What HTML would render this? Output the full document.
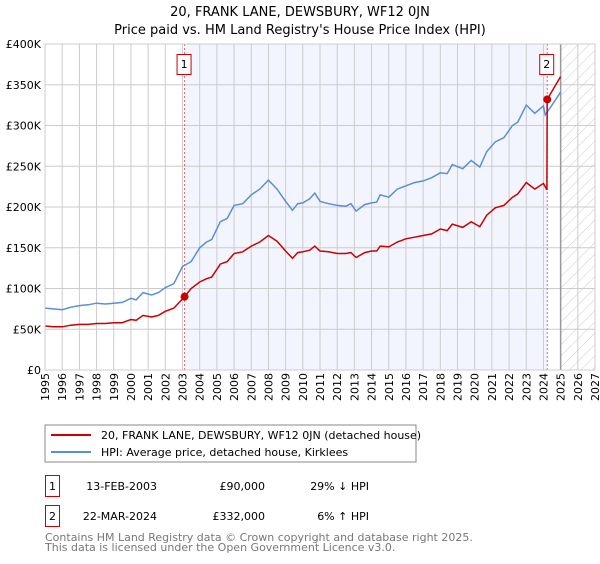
<!DOCTYPE html>
<html><head><meta charset="utf-8"><style>
body{margin:0;background:#fff;font-family:"DejaVu Sans","Liberation Sans",sans-serif;}
svg text{font-family:"DejaVu Sans","Liberation Sans",sans-serif;}
</style></head><body>
<svg id="c" width="600" height="560" xmlns="http://www.w3.org/2000/svg">
<defs><pattern id="hatch" width="8" height="8" patternUnits="userSpaceOnUse" patternTransform="rotate(45)"><line x1="0" y1="0" x2="0" y2="8" stroke="#ccc" stroke-width="1"/></pattern></defs>
<text x="300" y="16" font-size="13" text-anchor="middle">20, FRANK LANE, DEWSBURY, WF12 0JN</text>
<text x="300" y="34" font-size="13" text-anchor="middle">Price paid vs. HM Land Registry's House Price Index (HPI)</text>
<g id="plot"></g>
<rect x="45" y="425" width="371" height="37" fill="#fff" stroke="#888"/>
<line x1="51" y1="435" x2="91" y2="435" stroke="#cc0000" stroke-width="2"/>
<text x="101" y="439" font-size="11">20, FRANK LANE, DEWSBURY, WF12 0JN (detached house)</text>
<line x1="51" y1="452" x2="91" y2="452" stroke="#5b8fd4" stroke-width="2"/>
<text x="101" y="456" font-size="11">HPI: Average price, detached house, Kirklees</text>
<g>
<rect x="45.5" y="475.5" width="14" height="21" fill="none" stroke="#cc0000"/>
<text x="52.5" y="490" font-size="11" text-anchor="middle">1</text>
<text x="157" y="490" font-size="11" text-anchor="end">13-FEB-2003</text>
<text x="265" y="490" font-size="11" text-anchor="end">£90,000</text>
<text x="369" y="490" font-size="11" text-anchor="end">29% ↓ HPI</text></g>
<g>
<rect x="45.5" y="505.5" width="14" height="21" fill="none" stroke="#cc0000"/>
<text x="52.5" y="520" font-size="11" text-anchor="middle">2</text>
<text x="157" y="520" font-size="11" text-anchor="end">22-MAR-2024</text>
<text x="265" y="520" font-size="11" text-anchor="end">£332,000</text>
<text x="369" y="520" font-size="11" text-anchor="end">6% ↑ HPI</text></g>
<text x="45" y="541" font-size="11" fill="#777">Contains HM Land Registry data © Crown copyright and database right 2025.</text>
<text x="45" y="551" font-size="11" fill="#777">This data is licensed under the Open Government Licence v3.0.</text>
</svg>
<script>
const hpiT=[1995,1995.5,1996,1996.5,1997,1997.5,1998,1998.5,1999,1999.5,2000,2000.3,2000.7,2001.2,2001.6,2002,2002.5,2003,2003.5,2004,2004.4,2004.7,2005.2,2005.6,2006,2006.5,2007,2007.5,2008,2008.5,2009,2009.4,2009.7,2010,2010.4,2010.7,2011,2011.5,2012,2012.5,2012.8,2013.1,2013.6,2014,2014.3,2014.5,2015,2015.5,2016,2016.5,2017,2017.5,2018,2018.4,2018.7,2019.3,2019.8,2020.3,2020.7,2021.2,2021.7,2022.2,2022.5,2023,2023.5,2024,2024.1,2024.5,2025];
const hpiV=[76,75,74,77,79,80,82,81,82,83,88,86,95,92,95,101,106,127,133,150,157,160,182,186,202,204,215,222,233,222,207,196,204,205,210,217,207,204,202,201,204,195,203,205,206,215,212,222,226,230,232,236,242,241,252,247,257,249,268,280,285,300,304,325,315,324,313,325,341];
const redT=[1995,1995.5,1996,1996.5,1997,1997.5,1998,1998.5,1999,1999.5,2000,2000.3,2000.7,2001.2,2001.6,2002,2002.5,2003.12,2003.5,2004,2004.4,2004.7,2005.2,2005.6,2006,2006.5,2007,2007.5,2008,2008.5,2009,2009.4,2009.7,2010,2010.4,2010.7,2011,2011.5,2012,2012.5,2012.8,2013.1,2013.6,2014,2014.3,2014.5,2015,2015.5,2016,2016.5,2017,2017.5,2018,2018.4,2018.7,2019.3,2019.8,2020.3,2020.7,2021.2,2021.7,2022.2,2022.5,2023,2023.5,2024,2024.2,2024.22,2024.5,2025];
const redV=[54,53,53,55,56,56,57,57,58,58,62,61,67,65,67,72,76,90,100,108,112,114,130,133,143,145,152,157,165,158,146,137,144,145,147,152,146,145,143,143,144,138,144,146,146,152,151,157,161,163,165,167,173,171,179,175,182,176,190,199,202,212,216,230,222,229,221,332,342,360];
const sales=[[2003.12,90],[2024.22,332]];
const yTicks=[0,50,100,150,200,250,300,350,400];
const yLabels=["£0","£50K","£100K","£150K","£200K","£250K","£300K","£350K","£400K"];
const xYears=[1995,1996,1997,1998,1999,2000,2001,2002,2003,2004,2005,2006,2007,2008,2009,2010,2011,2012,2013,2014,2015,2016,2017,2018,2019,2020,2021,2022,2023,2024,2025,2026,2027];
const NS="http://www.w3.org/2000/svg";
const L=45,R=595,T=44,B=370;
const x=t=>L+(t-1995)/(2027-1995)*(R-L);
const y=v=>B-v/400*(B-T);
const g=document.getElementById('plot');
function mk(tag,a){const e=document.createElementNS(NS,tag);for(const k in a)e.setAttribute(k,a[k]);g.appendChild(e);return e;}
let e=mk('rect',{x:x(2003.12),y:T,width:x(2024.22)-x(2003.12),height:B-T,fill:'#f2f5fd'});


e=mk('rect',{x:x(2025),y:T,width:R-x(2025),height:B-T,fill:'url(#hatch)'});


xYears.forEach(t=>{const l=mk('line',{x1:x(t),x2:x(t),y1:T,y2:B,stroke:'#ccc'});


const tx=mk('text',{x:0,y:0,'font-size':11,'text-anchor':'end',transform:`translate(${x(t)+4},373) rotate(-90)`});tx.textContent=t;

});
yTicks.forEach((v,i)=>{const l=mk('line',{x1:L,x2:R,y1:y(v),y2:y(v),stroke:'#ccc'});


const tx=mk('text',{x:41,y:y(v)+4,'font-size':11,'text-anchor':'end'});tx.textContent=yLabels[i];

});
e=mk('line',{x1:x(2025),x2:x(2025),y1:T,y2:B,stroke:'#999','stroke-width':1.5});


sales.forEach((s,i)=>{const l=mk('line',{x1:x(s[0]),x2:x(s[0]),y1:T,y2:B,stroke:'#e66','stroke-dasharray':'2,2'});

});
const pts=(T_,V)=>T_.map((t,i)=>x(t).toFixed(1)+','+y(V[i]).toFixed(1)).join(' ');
e=mk('polyline',{points:pts(hpiT,hpiV),fill:'none',stroke:'#5b8fd4','stroke-width':1.5});


e=mk('polyline',{points:pts(redT,redV),fill:'none',stroke:'#cc0000','stroke-width':1.5});


sales.forEach((s,i)=>{const c=mk('circle',{cx:x(s[0]),cy:y(s[1]),r:4,fill:'#cc0000'});


const bx=x(s[0])-8;
const r=mk('rect',{x:bx+0.5,y:54.5,width:14,height:20,fill:'#fff',stroke:'#cc0000'});


const tx=mk('text',{x:bx+7.5,y:68,'font-size':11,'text-anchor':'middle'});tx.textContent=String(i+1);

});
e=mk('rect',{x:L,y:T,width:R-L,height:B-T,fill:'none',stroke:'#ccc'});


</script>
</body></html>
